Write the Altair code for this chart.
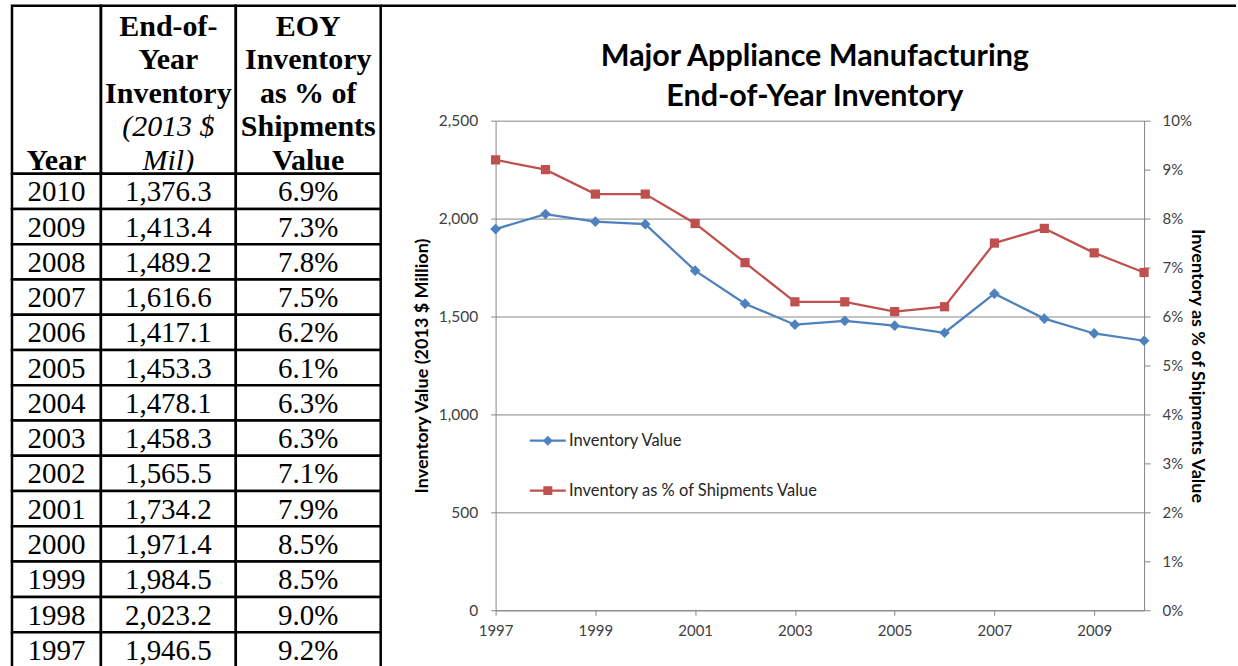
import altair as alt
import pandas as pd

# ---- data -------------------------------------------------------------
years = [2010, 2009, 2008, 2007, 2006, 2005, 2004, 2003, 2002, 2001, 2000, 1999, 1998, 1997]
inventory = [1376.3, 1413.4, 1489.2, 1616.6, 1417.1, 1453.3, 1478.1,
             1458.3, 1565.5, 1734.2, 1971.4, 1984.5, 2023.2, 1946.5]
inventory_pct = [6.9, 7.3, 7.8, 7.5, 6.2, 6.1, 6.3, 6.3, 7.1, 7.9, 8.5, 8.5, 9.0, 9.2]

year_header = ["", "", "", "", "Year"]
inv_header = ["End-of-", "Year", "Inventory", "(2013 $", "Mil)"]
inv_header_italic = [False, False, False, True, True]
pct_header = ["EOY", "Inventory", "as % of", "Shipments", "Value"]

chart_title = ["Major Appliance Manufacturing", "End-of-Year Inventory"]
left_title = "Inventory Value (2013 $ Million)"
right_title = "Inventory as % of Shipments Value"
series_names = ["Inventory Value", "Inventory as % of Shipments Value"]
left_ticks = [0, 500, 1000, 1500, 2000, 2500]
right_ticks = [0, 0.01, 0.02, 0.03, 0.04, 0.05, 0.06, 0.07, 0.08, 0.09, 0.10]
x_ticks = [1997, 1999, 2001, 2003, 2005, 2007, 2009]

# ---- styling ------------------------------------------------------------
SERIF = "Liberation Serif"
SANS = "Lato"
BLUE = "#4F81BD"
RED = "#C0504D"
GRAY = "#868686"
LABEL = "#404040"
BORDER = 2.5

COL_W = [89, 135, 145]
HEADER_H = 168
ROW_H = 35.3
PLOT_W = 649
PLOT_H = 490
TOP_GAP = 115  # band between the document's top border and the plotting area
VIEW_H = TOP_GAP + PLOT_H

table_df = pd.DataFrame({
    "year": years,
    "inv": inventory,
    "pct": [p / 100 for p in inventory_pct],
})


def header_cell(lines, italic, width):
    hdf = pd.DataFrame({"line": list(range(len(lines))), "label": lines, "italic": italic})
    y = alt.Y("line:O", axis=None,
              scale=alt.Scale(domain=list(range(len(lines))), paddingInner=0, paddingOuter=0))
    base = alt.Chart(hdf).transform_filter("datum.label != ''")
    bold = base.transform_filter("!datum.italic").mark_text(
        font=SERIF, fontSize=30, fontWeight="bold", color="black", dy=4
    ).encode(y=y, text="label:N")
    ital = base.transform_filter("datum.italic").mark_text(
        font=SERIF, fontSize=30, fontStyle="italic", color="black", dy=4
    ).encode(y=y, text="label:N")
    return alt.layer(bold, ital).properties(
        width=width, height=HEADER_H,
        view=alt.ViewBackground(stroke="black", strokeWidth=BORDER),
    )


def body_column(field, fmt, width):
    base = alt.Chart(table_df).transform_calculate(col="'c'")
    x = alt.X("col:N", axis=None, scale=alt.Scale(paddingInner=0, paddingOuter=0))
    y = alt.Y("year:O", axis=None, sort="descending",
              scale=alt.Scale(paddingInner=0, paddingOuter=0))
    cells = base.mark_rect(fill="white", stroke="black", strokeWidth=BORDER).encode(x=x, y=y)
    text = base.mark_text(font=SERIF, fontSize=29, color="black", dy=1).encode(
        x=x, y=y, text=alt.Text(f"{field}:Q", format=fmt)
    )
    return alt.layer(cells, text).properties(width=width, height=ROW_H * len(years))


table = alt.concat(
    header_cell(year_header, [False] * 5, COL_W[0]),
    header_cell(inv_header, inv_header_italic, COL_W[1]),
    header_cell(pct_header, [False] * 5, COL_W[2]),
    body_column("year", "d", COL_W[0]),
    body_column("inv", ",.1f", COL_W[1]),
    body_column("pct", ".1%", COL_W[2]),
    columns=3, spacing=0, bounds="flush", align="each",
)

# ---- line chart -----------------------------------------------------------
inv_df = pd.DataFrame({"year": years, "value": inventory, "series": series_names[0]})
pct_df = pd.DataFrame({"year": years, "value": [p / 100 for p in inventory_pct],
                       "series": series_names[1]})

# legend glyphs: a short line segment with the series marker on it
INV_PATH = "M-3.6,-0.22L3.6,-0.22L3.6,0.22L-3.6,0.22ZM0,-1L1,0L0,1L-1,0Z"
PCT_PATH = "M-3.6,-0.22L3.6,-0.22L3.6,0.22L-3.6,0.22ZM-0.9,-0.9L0.9,-0.9L0.9,0.9L-0.9,0.9Z"

legend = alt.Legend(
    title=None, orient="none", legendX=44, legendY=TOP_GAP + 312, padding=0,
    labelFont=SANS, labelFontSize=16.5, labelColor="#262626", labelLimit=400,
    symbolSize=100, labelOffset=13, rowPadding=33,
)

x_enc = alt.X("year:Q", title=None,
              scale=alt.Scale(domain=[1997, 2010], nice=False, zero=False),
              axis=alt.Axis(values=x_ticks, format="d", grid=False, labelPadding=8,
                            tickSize=5, labelFlush=False))

inv_line = alt.Chart(inv_df).mark_line(
    color=BLUE, strokeWidth=2.25,
    point=alt.OverlayMarkDef(shape="diamond", size=115, filled=True, opacity=1, color=BLUE),
).encode(
    x=x_enc,
    y=alt.Y("value:Q", title=left_title,
            scale=alt.Scale(domain=[0, 2500], nice=False, range=[VIEW_H, TOP_GAP]),
            axis=alt.Axis(values=left_ticks, format=",.0f", grid=True, gridColor=GRAY,
                          tickSize=5, labelPadding=13, labelFontSize=15.5, titlePadding=7)),
)

pct_line = alt.Chart(pct_df).mark_line(
    color=RED, strokeWidth=2.25,
    point=alt.OverlayMarkDef(shape="square", size=85, filled=True, opacity=1, color=RED),
).encode(
    x=x_enc,
    y=alt.Y("value:Q", title=right_title,
            scale=alt.Scale(domain=[0, 0.10], nice=False, range=[VIEW_H, TOP_GAP]),
            axis=alt.Axis(orient="right", values=right_ticks, format=".0%", grid=False,
                          tickSize=6, labelPadding=12, titlePadding=-4)),
)

# series key: an empty layer whose colour/shape scales carry the legend
key_layer = alt.Chart(inv_df).transform_filter("false").mark_point(
    filled=True, opacity=1, size=100
).encode(
    color=alt.Color("series:N", legend=legend,
                    scale=alt.Scale(domain=series_names, range=[BLUE, RED])),
    shape=alt.Shape("series:N", legend=legend,
                    scale=alt.Scale(domain=series_names, range=[INV_PATH, PCT_PATH])),
)

# chart heading, centred over the plotting area
heading = alt.Chart(alt.Data(values=[{}])).mark_text(
    font=SANS, fontSize=30.5, fontWeight="bold", color="black",
    align="center", baseline="alphabetic", lineHeight=40,
).encode(x=alt.value(PLOT_W / 2 - 5), y=alt.value(TOP_GAP - 55), text=alt.value(chart_title))

# document border running along the top, level with the table's top edge
top_border = alt.Chart(alt.Data(values=[{}])).mark_rule(
    color="black", strokeWidth=BORDER
).encode(x=alt.value(-TOP_GAP), x2=alt.value(741), y=alt.value(0))

chart = alt.layer(top_border, heading, inv_line, pct_line, key_layer).resolve_scale(
    y="independent"
).properties(width=PLOT_W, height=VIEW_H)

final = alt.hconcat(table, chart, spacing=-4).resolve_scale(
    color="independent", shape="independent"
).properties(
    padding={"left": 10, "top": 3.5, "right": 0, "bottom": 0},
    background="white",
).configure_view(stroke="transparent").configure_axis(
    labelFont=SANS, labelFontSize=15, labelColor=LABEL,
    titleFont=SANS, titleFontSize=18, titleFontWeight="bold", titleColor="black",
    domainColor=GRAY, tickColor=GRAY,
)

final.save("out.html", embed_options={"renderer": "svg", "actions": False})
